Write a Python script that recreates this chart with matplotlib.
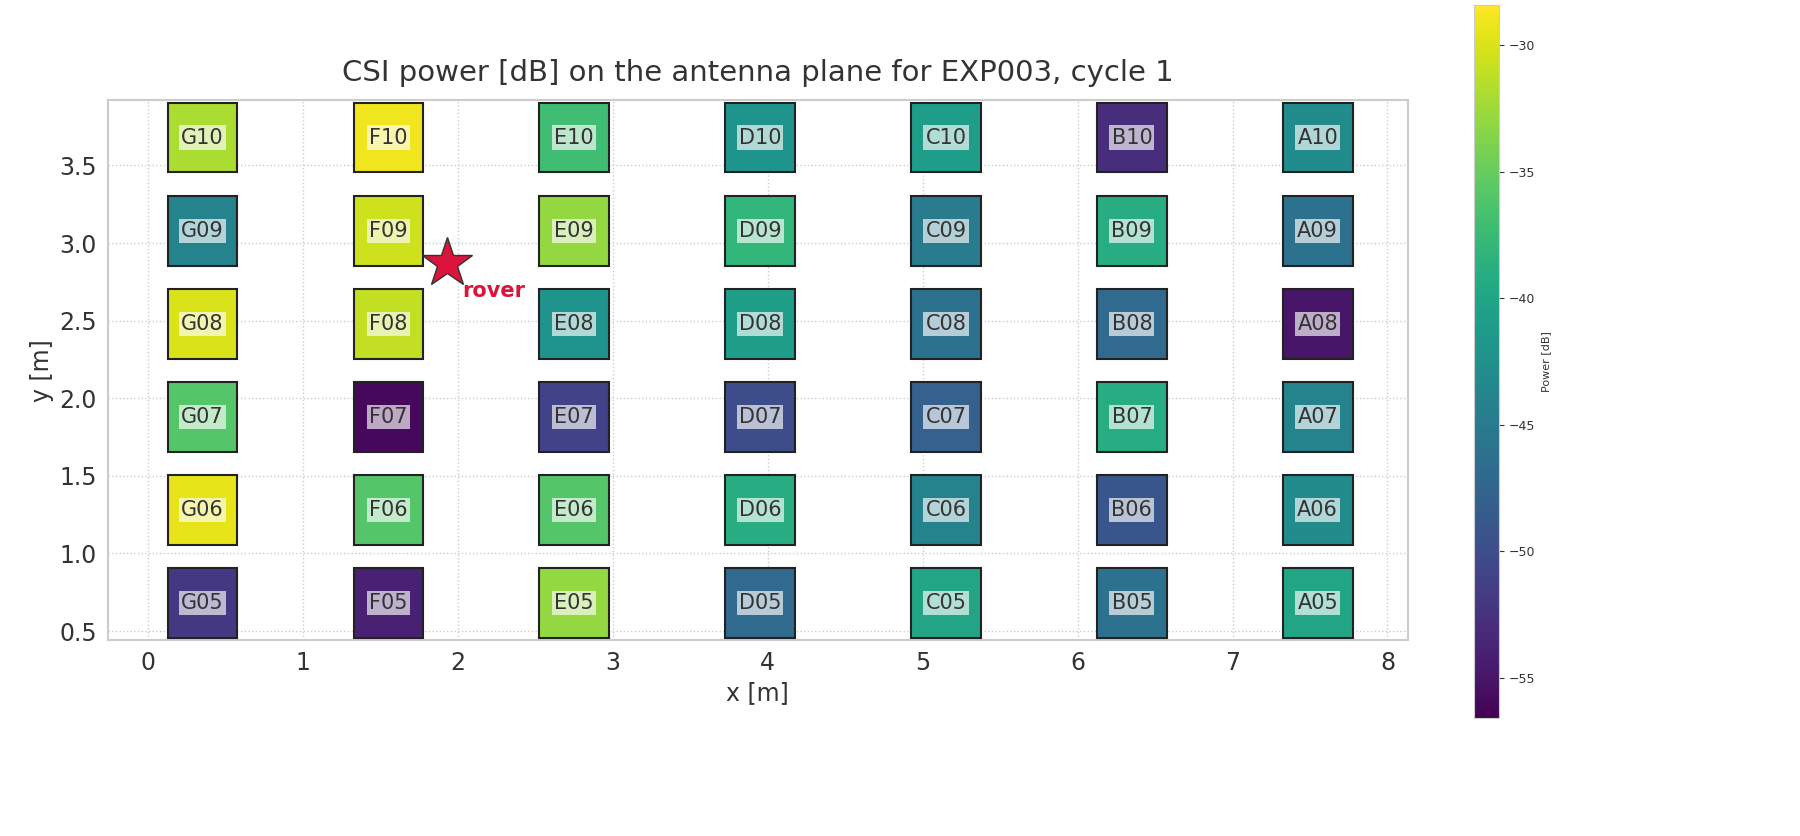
import numpy as np
import matplotlib.pyplot as plt
from matplotlib.patches import Rectangle

columns = ["G", "F", "E", "D", "C", "B", "A"]
col_x = [0.35, 1.55, 2.75, 3.95, 5.15, 6.35, 7.55]
rows = ["10", "09", "08", "07", "06", "05"]
row_y = [3.68, 3.08, 2.48, 1.88, 1.28, 0.68]
power_db = [
    [-32, -29, -37, -42, -41, -53, -43],
    [-44, -30.5, -33, -38, -45, -39, -46],
    [-30, -31, -42, -41, -46, -47, -55],
    [-36, -56, -51, -50, -48, -39, -44],
    [-29.5, -36, -36, -39, -44, -49, -43],
    [-52, -54, -33, -47, -40, -46, -40],
]
rover_xy = (1.93, 2.87)

vmin, vmax = -56.6, -28.4
norm = plt.Normalize(vmin, vmax)
cmap = plt.cm.viridis
size = 0.45

fig = plt.figure(figsize=(18, 8.36), dpi=100)
ax = fig.add_axes([0.06, 0.234, 0.722, 0.646])
cax = fig.add_axes([0.819, 0.141, 0.014, 0.853])

for i, r in enumerate(rows):
    for j, c in enumerate(columns):
        v = power_db[i][j]
        ax.add_patch(Rectangle((col_x[j] - size / 2, row_y[i] - size / 2), size, size,
                               facecolor=cmap(norm(v)), edgecolor="#222222", lw=1.5, zorder=3))
        ax.text(col_x[j], row_y[i], c + r, ha="center", va="center", fontsize=15, color="#333333",
                zorder=4, bbox=dict(facecolor="white", alpha=0.65, edgecolor="none", pad=1.5))

ax.plot(*rover_xy, marker="*", markersize=38, color="#dc143c", markeredgecolor="#333333", zorder=5)
ax.text(rover_xy[0] + 0.1, rover_xy[1] - 0.18, "rover", color="#dc143c", fontsize=15,
        fontweight="bold", va="center", zorder=5)

ax.set_xlim(-0.26, 8.13)
ax.set_ylim(0.44, 3.92)
ax.set_xticks(range(0, 9))
ax.set_yticks([0.5, 1.0, 1.5, 2.0, 2.5, 3.0, 3.5])
ax.tick_params(labelsize=17, length=0, pad=8, colors="#333333")
ax.grid(True, linestyle=":", color="#cccccc", lw=1)
ax.set_axisbelow(True)
for s in ax.spines.values():
    s.set_color("#cccccc")
    s.set_linewidth(1.5)
ax.set_xlabel("x [m]", fontsize=17, color="#333333")
ax.set_ylabel("y [m]", fontsize=17, color="#333333")
ax.set_title("CSI power [dB] on the antenna plane for EXP003, cycle 1", fontsize=21, color="#333333", pad=14)

sm = plt.cm.ScalarMappable(norm=norm, cmap=cmap)
cb = fig.colorbar(sm, cax=cax)
cb.set_ticks([-30, -35, -40, -45, -50, -55])
cb.ax.tick_params(labelsize=9, colors="#333333")
cb.set_label("Power [dB]", fontsize=8, color="#333333")
cb.outline.set_edgecolor("#cccccc")

fig.savefig("out.png")
